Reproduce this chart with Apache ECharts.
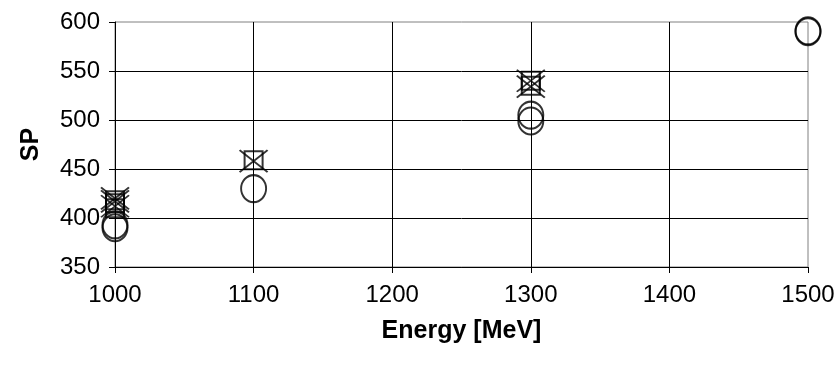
<!DOCTYPE html>
<html>
<head>
<meta charset="utf-8">
<script src="https://cdn.jsdelivr.net/npm/echarts@6/dist/echarts.min.js"></script>
<style>html,body{margin:0;padding:0;background:#fff}#c{width:839px;height:365px}</style>
</head>
<body>
<div id="c"></div>
<script>
var xTicks = [1000, 1100, 1200, 1300, 1400, 1500];
var yTicks = [350, 400, 450, 500, 550, 600];
var circleData = [[1000, 390], [1000, 393], [1100, 430], [1300, 499], [1300, 505], [1500, 590], [1500, 591]];
var squareData = [[1000, 410], [1000, 415], [1000, 418], [1100, 459], [1300, 535], [1300, 540]];
var crossData = [[1000, 412], [1000, 417], [1000, 420], [1100, 458], [1300, 534], [1300, 540]];

var chart = echarts.init(document.getElementById('c'));
var font = 'Liberation Sans, Arial, sans-serif';
chart.setOption({
  animation: false,
  backgroundColor: '#fff',
  grid: {left: 115, right: 31, top: 22, bottom: 98, show: true, borderColor: '#808080', borderWidth: 1, backgroundColor: 'transparent'},
  xAxis: {
    type: 'value', min: xTicks[0], max: xTicks[xTicks.length - 1], interval: 100,
    name: 'Energy [MeV]', nameLocation: 'middle', nameGap: 52,
    nameTextStyle: {fontFamily: font, fontSize: 25, fontWeight: 'bold', color: '#000'},
    axisLine: {show: true, onZero: false, lineStyle: {color: '#000', width: 1}},
    axisTick: {show: true, length: 6, lineStyle: {color: '#000'}},
    axisLabel: {fontFamily: font, fontSize: 24, color: '#000', margin: 16, formatter: function (v) { return String(v); }},
    splitLine: {show: true, showMaxLine: false, lineStyle: {color: '#000', width: 1}}
  },
  yAxis: {
    type: 'value', min: yTicks[0], max: yTicks[yTicks.length - 1], interval: 50,
    name: 'SP', nameLocation: 'middle', nameGap: 71, nameRotate: 90,
    nameTextStyle: {fontFamily: font, fontSize: 25, fontWeight: 'bold', color: '#000'},
    axisLine: {show: true, onZero: false, lineStyle: {color: '#000', width: 1}},
    axisTick: {show: true, length: 6, lineStyle: {color: '#000'}},
    axisLabel: {fontFamily: font, fontSize: 24, color: '#000', margin: 15, formatter: function (v) { return String(v); }},
    splitLine: {show: true, showMaxLine: false, lineStyle: {color: '#000', width: 1}}
  },
  series: [
    {
      name: 'circle', type: 'scatter', data: circleData,
      symbol: 'circle', symbolSize: [25, 27],
      itemStyle: {color: 'rgba(0,0,0,0)', borderColor: '#000', borderWidth: 2}
    },
    {
      name: 'square', type: 'scatter', data: squareData,
      symbol: 'rect', symbolSize: 18,
      itemStyle: {color: 'rgba(0,0,0,0)', borderColor: '#000', borderWidth: 2}
    },
    {
      name: 'cross', type: 'scatter', data: crossData,
      symbol: 'path://M0,0L10,10M10,0L0,10', symbolSize: [28, 22],
      itemStyle: {color: 'rgba(0,0,0,0)', borderColor: '#000', borderWidth: 1.8}
    }
  ]
});
</script>
</body>
</html>
